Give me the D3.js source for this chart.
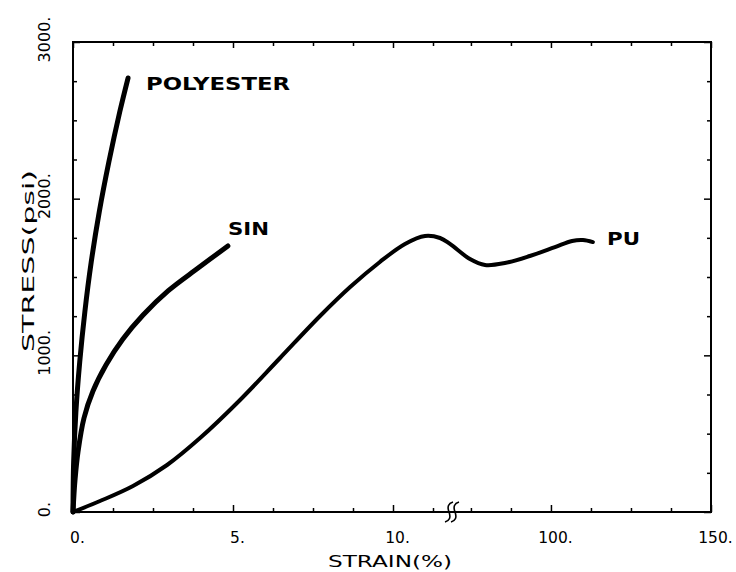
<!DOCTYPE html>
<html><head><meta charset="utf-8">
<script src="https://cdn.jsdelivr.net/npm/d3@7"></script>
<style>
html,body{margin:0;padding:0;background:#fff;}
svg{display:block;font-family:"DejaVu Sans",sans-serif;}
</style></head>
<body>
<svg id="chart" width="736" height="572"></svg>
<script>
// ---- data (strain %, stress psi) ----
const polyStrain = [0, 0.02, 0.09, 0.21, 0.37, 0.57, 0.82, 1.12, 1.46, 1.72];
const polyStress = [0, 319, 638, 957, 1277, 1596, 1915, 2234, 2553, 2770];
const sinStrain = [0, 0.031, 0.0625, 0.156, 0.344, 0.625, 1.03, 1.56, 2.19, 2.97, 3.91, 4.84];
const sinStress = [0, 115, 204, 383, 600, 772, 938, 1104, 1257, 1411, 1557, 1698];
const puStrain = [0, 0.844, 1.875, 2.94, 3.97, 5.22, 6.47, 7.72, 8.66, 9.59, 10.375, 11.0, 11.47, 11.78, 74.7, 79.4, 85.6, 93.4, 101.25, 106.6, 110, 113.1];
const puStress = [0, 70, 166, 300, 472, 715, 983, 1251, 1436, 1596, 1711, 1762, 1749, 1711, 1615, 1577, 1589, 1634, 1691, 1730, 1736, 1723];
const seriesNames = ["POLYESTER", "SIN", "PU"];
const xMajorTicks = [0, 5, 10, 100, 150];
const xMinorTicks = [1.25, 2.5, 3.75, 6.25, 7.5, 8.75, 11.25, 75, 87.5, 112.5, 125, 137.5];
const yMajorTicks = [0, 1000, 2000, 3000];
const yMinorTicks = [250, 500, 750, 1250, 1500, 1750, 2250, 2500, 2750];
const xBreak = [11.875, 69.4];
const xTitle = "STRAIN(%)";
const yTitle = "STRESS(psi)";

// ---- layout ----
const L = 73, R = 711, T = 42, B = 512;
const svg = d3.select("#chart");

const x = d3.scaleLinear()
  .domain([0, xBreak[0], xBreak[1], 150])
  .range([L, 453, 453, R]);
const y = d3.scaleLinear().domain([0, 3000]).range([B, T]);

const fmt = d => d + ".";

// frame
svg.append("rect").attr("x", L).attr("y", T).attr("width", R - L).attr("height", B - T)
  .attr("fill", "none").attr("stroke", "#000").attr("stroke-width", 2);

function styleAxis(g) {
  g.select(".domain").remove();
  g.selectAll(".tick line").attr("stroke", "#000").attr("stroke-width", 1.5);
}

// bottom axis
svg.append("g").attr("transform", `translate(0,${B})`)
  .call(d3.axisBottom(x).tickValues(xMinorTicks).tickSize(-4).tickFormat(""))
  .call(styleAxis);
const bx = svg.append("g").attr("transform", `translate(0,${B})`)
  .call(d3.axisBottom(x).tickValues(xMajorTicks).tickSize(-7).tickSizeOuter(0).tickPadding(20).tickFormat(fmt))
  .call(styleAxis);
bx.selectAll("text").attr("font-size", 15.5).attr("fill", "#000").attr("dx", 4)
  .attr("font-family", "DejaVu Sans");

// top axis
svg.append("g").attr("transform", `translate(0,${T})`)
  .call(d3.axisTop(x).tickValues(xMinorTicks).tickSize(-4).tickFormat(""))
  .call(styleAxis);
svg.append("g").attr("transform", `translate(0,${T})`)
  .call(d3.axisTop(x).tickValues(xMajorTicks).tickSize(-6).tickFormat(""))
  .call(styleAxis);

// left axis
svg.append("g").attr("transform", `translate(${L},0)`)
  .call(d3.axisLeft(y).tickValues(yMinorTicks).tickSize(-4).tickFormat(""))
  .call(styleAxis);
const ly = svg.append("g").attr("transform", `translate(${L},0)`)
  .call(d3.axisLeft(y).tickValues(yMajorTicks).tickSize(-7).tickFormat(fmt))
  .call(styleAxis);
ly.selectAll("text")
  .attr("x", null).attr("dy", null)
  .attr("transform", `translate(${50 - L},0) rotate(-90)`)
  .attr("text-anchor", "middle").attr("dx", 3)
  .attr("font-size", 16).attr("fill", "#000").attr("font-family", "DejaVu Sans");

// right axis
svg.append("g").attr("transform", `translate(${R},0)`)
  .call(d3.axisRight(y).tickValues(yMinorTicks).tickSize(-4).tickFormat(""))
  .call(styleAxis);
svg.append("g").attr("transform", `translate(${R},0)`)
  .call(d3.axisRight(y).tickValues(yMajorTicks).tickSize(-7).tickFormat(""))
  .call(styleAxis);

// axis break mark
const bxp = x(xBreak[0]);
[-3, 3].forEach(off => {
  svg.append("path")
    .attr("d", `M${bxp + off - 5},${B + 10} q7,-2 4,-10 q-3,-8 4,-10`)
    .attr("fill", "none").attr("stroke", "#000").attr("stroke-width", 1.6);
});

// curves
const line = d3.line().x(d => x(d[0])).y(d => y(d[1])).curve(d3.curveCatmullRom.alpha(0.5));
const series = [
  { name: seriesNames[0], pts: d3.zip(polyStrain, polyStress), w: 5 },
  { name: seriesNames[1], pts: d3.zip(sinStrain, sinStress), w: 5 },
  { name: seriesNames[2], pts: d3.zip(puStrain, puStress), w: 4 }
];
svg.append("g").selectAll("path").data(series).join("path")
  .attr("d", d => line(d.pts))
  .attr("fill", "none").attr("stroke", "#000")
  .attr("stroke-width", d => d.w)
  .attr("stroke-linecap", "round").attr("stroke-linejoin", "round");

// series labels
const labelPos = [
  { t: seriesNames[0], x: 146, y: 90, len: 144 },
  { t: seriesNames[1], x: 228, y: 235, len: 41 },
  { t: seriesNames[2], x: 607, y: 245, len: 33 }
];
svg.append("g").selectAll("text").data(labelPos).join("text")
  .attr("x", d => d.x).attr("y", d => d.y)
  .attr("font-size", 17).attr("font-weight", "bold").attr("fill", "#000")
  .attr("textLength", d => d.len).attr("lengthAdjust", "spacingAndGlyphs")
  .text(d => d.t);

// axis titles
svg.append("text").attr("x", 328).attr("y", 567)
  .attr("font-size", 16).attr("fill", "#000")
  .attr("textLength", 124).attr("lengthAdjust", "spacingAndGlyphs")
  .text(xTitle);
svg.append("text")
  .attr("transform", `translate(34,352) rotate(-90)`)
  .attr("font-size", 16).attr("fill", "#000")
  .attr("textLength", 182).attr("lengthAdjust", "spacingAndGlyphs")
  .text(yTitle);
</script>
</body></html>
